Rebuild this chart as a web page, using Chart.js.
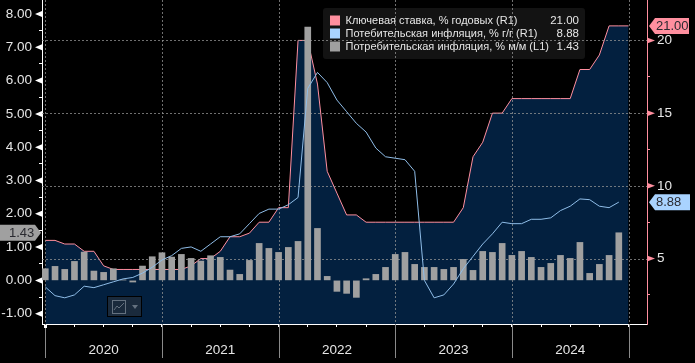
<!DOCTYPE html>
<html>
<head>
<meta charset="utf-8">
<style>
html,body{margin:0;padding:0;background:#000;}
#wrap{position:relative;width:695px;height:363px;}
canvas{display:block;}
</style>
<script src="https://cdn.jsdelivr.net/npm/chart.js@4"></script>
</head>
<body>
<div id="wrap"><canvas id="c" width="695" height="363"></canvas></div>
<script>
const years = ['2020','2021','2022','2023','2024'];
const seriesNames = ['Ключевая ставка, % годовых (R1)','Потебительская инфляция, % г/г (R1)','Потребительская инфляция, % м/м (L1)'];
const lastValues = ['21.00','8.88','1.43'];
const keyRate = [6.25,6.25,6,6,5.5,5.5,4.5,4.25,4.25,4.25,4.25,4.25,
  4.25,4.25,4.25,4.5,5,5,5.5,6.5,6.5,6.75,7.5,7.5,
  8.5,8.5,20,20,17,11,9.5,8,8,7.5,7.5,7.5,
  7.5,7.5,7.5,7.5,7.5,7.5,7.5,8.5,12,13,15,15,
  16,16,16,16,16,16,16,18,18,19,21,21,21];
const cpiYoY = [3.05,2.45,2.3,2.5,3.1,3.0,3.2,3.4,3.6,3.7,4.0,4.4,
  4.9,5.2,5.7,5.8,5.5,6.0,6.5,6.5,6.7,7.4,8.1,8.4,
  8.4,8.7,9.2,16.7,17.8,17.1,15.9,15.1,14.3,13.7,12.6,12.0,
  11.9,11.8,11.0,3.5,2.3,2.5,3.25,4.3,5.15,6.0,6.7,7.5,
  7.4,7.4,7.7,7.7,7.8,8.3,8.6,9.1,9.05,8.6,8.5,8.88];
const cpiMoM = [0.35,0.42,0.33,0.57,0.85,0.28,0.24,0.35,0.01,-0.05,0.43,0.71,
  0.83,0.70,0.78,0.66,0.58,0.74,0.69,0.31,0.18,0.60,1.11,0.96,
  0.84,0.99,1.17,7.61,1.56,0.12,-0.33,-0.39,-0.51,0.05,0.18,0.39,
  0.78,0.84,0.48,0.39,0.39,0.33,0.39,0.63,0.30,0.87,0.84,1.11,
  0.75,0.87,0.69,0.39,0.51,0.75,0.66,1.14,0.21,0.48,0.75,1.43];
const rightGridValues = [5,10,15,20];

const PINK='#ff8f9f', BLUE='#a9d3ff', GREY='#a0a0a0', AREA='#03203f', TEXT='#e6e6e6', MONTHS=12;
const FONT='"Liberation Sans", Arial, sans-serif', LEG='"Liberation Sans", sans-serif';
const pts = a => a.map((y,i)=>({x:i,y}));
const noPad = s => { s.paddingTop=0; s.paddingBottom=0; s.paddingLeft=0; s.paddingRight=0; };

function tag(ctx,dir,tip,w,y,fill,txt,tx){
  const h=16; ctx.save(); ctx.fillStyle=fill; ctx.beginPath();
  ctx.moveTo(tip,y);
  ctx.lineTo(tip+dir*6,y-h/2); ctx.lineTo(tip+dir*w,y-h/2); ctx.lineTo(tip+dir*w,y+h/2); ctx.lineTo(tip+dir*6,y+h/2);
  ctx.closePath(); ctx.fill();
  ctx.fillStyle='#2a2a30'; ctx.font='13px '+FONT; ctx.textAlign='left'; ctx.textBaseline='middle';
  ctx.fillText(txt,tx,y+0.5); ctx.restore();
}

const gridOverArea = {
  id:'gridOverArea',
  afterDatasetDraw(chart,args){
    if(args.index!==0) return;
    const {ctx,chartArea:a,scales}=chart;
    ctx.save(); ctx.lineWidth=1; ctx.setLineDash([2,2]); ctx.strokeStyle='rgba(150,150,150,0.75)';
    rightGridValues.forEach(v=>{const y=Math.round(scales.yR.getPixelForValue(v))+0.5;
      ctx.beginPath();ctx.moveTo(a.left,y);ctx.lineTo(a.right,y);ctx.stroke();});
    for(let i=0;i<=years.length;i++){const x=Math.round(scales.x.getPixelForValue(i*MONTHS))+0.5;
      ctx.beginPath();ctx.moveTo(x,a.top);ctx.lineTo(x,a.bottom);ctx.stroke();}
    ctx.restore();
  }
};

const decorations = {
  id:'decorations',
  afterLayout(chart){
    const l=chart.legend;
    l.left=328; l.right=585; l.top=13; l.bottom=59; l.width=257; l.height=46;
    if(!l._wrapped){
      const orig=l.draw;
      l.draw=function(){
        const c=chart.ctx; c.save(); c.fillStyle='rgba(20,20,20,0.93)';
        c.beginPath(); c.roundRect(323,8,262,51,3); c.fill(); c.restore();
        orig.call(this);
      };
      l._wrapped=true;
    }
  },
  afterDraw(chart){
    const {ctx,chartArea:a,scales}=chart;
    ctx.save();
    ctx.fillStyle=TEXT; ctx.font='11.5px '+LEG; ctx.textAlign='right'; ctx.textBaseline='middle';
    lastValues.forEach((v,i)=>ctx.fillText(v,579,20.5+i*13));
    ctx.strokeStyle='#8a8a8a'; ctx.lineWidth=1;
    for(let i=0;i<=years.length;i++){const x=Math.round(scales.x.getPixelForValue(i*MONTHS))+0.5;
      ctx.beginPath();ctx.moveTo(x,a.bottom);ctx.lineTo(x,358);ctx.stroke();}
    ctx.fillStyle='#fff'; ctx.fillRect(Math.round(scales.x.getPixelForValue(0))-1,a.bottom+1,3,3);
    ctx.fillStyle='#fff';
    scales.yL.ticks.forEach(t=>{ if(!Number.isInteger(t.value))return;
      const y=scales.yL.getPixelForValue(t.value);
      ctx.beginPath();ctx.moveTo(a.left,y-3);ctx.lineTo(a.left,y+3);ctx.lineTo(a.left-7,y);ctx.closePath();ctx.fill();});
    ctx.fillStyle=PINK;
    scales.yR.ticks.forEach(t=>{ if(t.value%5!==0)return;
      const y=scales.yR.getPixelForValue(t.value);
      ctx.beginPath();ctx.moveTo(a.right,y-3);ctx.lineTo(a.right,y+3);ctx.lineTo(a.right+8,y);ctx.closePath();ctx.fill();});
    tag(ctx,-1,41,41,scales.yL.getPixelForValue(cpiMoM[cpiMoM.length-1]),GREY,lastValues[2],9);
    tag(ctx,1,649,40,scales.yR.getPixelForValue(keyRate[keyRate.length-1]),PINK,lastValues[0],656);
    tag(ctx,1,649,41,scales.yR.getPixelForValue(cpiYoY[cpiYoY.length-1]),BLUE,lastValues[1],656);
    ctx.fillStyle='#000'; ctx.fillRect(107,296,35,21);
    ctx.fillStyle='#1a2a3c'; ctx.fillRect(108,297,33,19);
    ctx.strokeStyle='#64717f'; ctx.lineWidth=1; ctx.strokeRect(112.5,300.5,13,13);
    ctx.beginPath();ctx.moveTo(114,310);ctx.lineTo(117,306);ctx.lineTo(119,308);ctx.lineTo(124,303);ctx.stroke();
    ctx.fillStyle='#64717f'; ctx.beginPath();ctx.moveTo(132,305);ctx.lineTo(138,305);ctx.lineTo(135,309);ctx.closePath();ctx.fill();
    ctx.restore();
  }
};

new Chart(document.getElementById('c'),{
  data:{datasets:[
    {type:'line',label:seriesNames[0],data:pts(keyRate),yAxisID:'yR',xAxisID:'x',borderColor:PINK,backgroundColor:AREA,borderWidth:1,pointRadius:0,tension:0,fill:'start',order:3},
    {type:'line',label:seriesNames[1],data:pts(cpiYoY),yAxisID:'yR',xAxisID:'x',borderColor:'#8fbde8',backgroundColor:BLUE,borderWidth:1,pointRadius:0,tension:0,fill:false,order:1},
    {type:'bar',label:seriesNames[2],data:pts(cpiMoM),yAxisID:'yL',xAxisID:'x',backgroundColor:GREY,borderWidth:0,barThickness:6,order:2}
  ]},
  options:{
    responsive:false,animation:false,
    layout:{padding:0,autoPadding:false},
    plugins:{
      tooltip:{enabled:false},
      legend:{
        display:true,position:'chartArea',align:'start',
        labels:{
          boxWidth:10,boxHeight:10,padding:2,color:TEXT,font:{family:LEG,size:11},
          generateLabels(chart){
            const cols=[PINK,BLUE,GREY];
            return chart.data.datasets.map((d,i)=>({text:d.label,fillStyle:cols[i],strokeStyle:cols[i],lineWidth:0,fontColor:TEXT,datasetIndex:i}));
          }
        }
      }
    },
    scales:{
      x:{type:'linear',position:'bottom',min:-0.34,max:61.9,offset:false,
        afterFit(s){s.height=39;noPad(s);},
        afterBuildTicks(s){const t=[];for(let i=0;i<=60;i+=3)t.push({value:i});s.ticks=t;},
        border:{color:'#fff',width:1},
        grid:{drawOnChartArea:false,drawTicks:true,tickLength:3,color:'#fff',offset:false},
        ticks:{autoSkip:false,maxRotation:0,color:TEXT,padding:15,font:{family:FONT,size:13.5},
          callback(v){return (v%MONTHS===6)?years[(v-6)/MONTHS]:'';}}
      },
      yL:{type:'linear',position:'left',min:-1.31,max:8.42,
        afterFit(s){s.width=42;noPad(s);},
        afterBuildTicks(s){const t=[];for(let v=-1;v<=8;v+=0.5)t.push({value:v});s.ticks=t;},
        border:{color:'#fff',width:1},
        grid:{drawOnChartArea:false,tickLength:3,color:'#fff'},
        ticks:{autoSkip:false,color:TEXT,padding:7,font:{family:FONT,size:13.5},
          callback(v){return Number.isInteger(v)?v.toFixed(2):'';}}
      },
      yR:{type:'linear',position:'right',min:0.5,max:22.78,
        afterFit(s){s.width=48;noPad(s);},
        afterBuildTicks(s){const t=[];for(let v=2.5;v<=20;v+=2.5)t.push({value:v});s.ticks=t;},
        border:{color:PINK,width:1},
        grid:{drawOnChartArea:false,tickLength:3,color:PINK},
        ticks:{autoSkip:false,color:TEXT,padding:7,font:{family:FONT,size:13.5},
          callback(v){return v%5===0?String(v):'';}}
      }
    }
  },
  plugins:[gridOverArea,decorations]
});
</script>
</body>
</html>
